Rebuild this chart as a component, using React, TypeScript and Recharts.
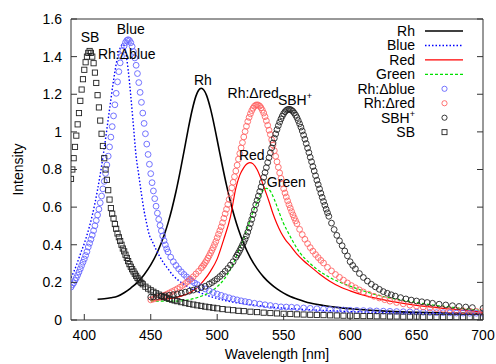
import React from 'react';
import { ComposedChart, Line, Scatter, XAxis, YAxis, ReferenceDot } from 'recharts';

const FONT = '"Liberation Sans", Arial, Helvetica, sans-serif';

// ---------- tick labels ----------
const xTicks = [400, 450, 500, 550, 600, 650, 700];
const yTicks = [0, 0.2, 0.4, 0.6, 0.8, 1, 1.2, 1.4, 1.6];

// ---------- line series [wavelength, intensity] ----------
const rhLine = [
  [410, 0.11], [415, 0.113], [420, 0.118], [425, 0.126], [430, 0.145], [435, 0.17], [440, 0.2], [445, 0.241],
  [450, 0.293], [455, 0.36], [460, 0.449], [463, 0.515], [466, 0.593], [469, 0.683], [472, 0.785], [475, 0.895],
  [478, 1.008], [481, 1.111], [484, 1.19], [486, 1.221], [488, 1.232], [490, 1.222], [492, 1.194], [495, 1.122],
  [498, 1.027], [501, 0.921], [504, 0.816], [507, 0.717], [510, 0.627], [513, 0.549], [516, 0.481], [520, 0.405],
  [525, 0.33], [530, 0.273], [535, 0.228], [540, 0.193], [545, 0.165], [550, 0.143], [555, 0.125], [560, 0.112],
  [570, 0.09], [580, 0.077], [590, 0.067], [600, 0.06], [615, 0.052], [630, 0.046], [650, 0.041], [675, 0.037], [700, 0.034],
];

const blueLine = [
  [390, 0.225], [392, 0.255], [394, 0.29], [396, 0.33], [398, 0.369], [400, 0.407], [402, 0.451], [404, 0.5],
  [406, 0.556], [408, 0.62], [410, 0.693], [412, 0.774], [414, 0.865], [416, 0.963], [418, 1.067], [420, 1.172],
  [422, 1.273], [424, 1.36], [426, 1.425], [428, 1.46], [429, 1.465], [430, 1.458], [431, 1.43], [433, 1.33],
  [435, 1.19], [437, 1.03], [439, 0.87], [441, 0.77], [443, 0.67], [445, 0.58], [447, 0.51], [449, 0.45],
  [451, 0.42], [454, 0.375], [457, 0.335], [460, 0.3], [463, 0.272], [467, 0.235], [471, 0.21], [475, 0.19],
  [479, 0.173], [484, 0.155], [489, 0.14], [494, 0.127], [499, 0.116], [504, 0.107], [509, 0.099], [519, 0.087],
  [529, 0.078], [539, 0.07], [550, 0.063], [569, 0.055], [589, 0.048], [609, 0.043], [629, 0.039], [659, 0.034], [700, 0.03],
];

const redLine = [
  [450, 0.105], [455, 0.107], [460, 0.11], [465, 0.115], [470, 0.122], [475, 0.132], [480, 0.148], [485, 0.172],
  [490, 0.21], [495, 0.26], [500, 0.325], [505, 0.43], [510, 0.55], [514, 0.7], [517, 0.77], [520, 0.81],
  [522, 0.828], [524.5, 0.837], [527, 0.83], [530, 0.8], [533, 0.75], [536, 0.69], [539, 0.63], [542, 0.565],
  [545, 0.51], [548, 0.465], [551, 0.43], [555, 0.395], [560, 0.35], [565, 0.315], [570, 0.285], [577, 0.245],
  [585, 0.205], [592, 0.178], [600, 0.155], [610, 0.132], [620, 0.115], [630, 0.1], [640, 0.088], [650, 0.078],
  [660, 0.07], [670, 0.062], [680, 0.055], [690, 0.048], [700, 0.042],
];

const greenLine = [
  [450, 0.1], [460, 0.1], [470, 0.1], [480, 0.11], [487, 0.124], [495, 0.15], [500, 0.177], [505, 0.215],
  [510, 0.27], [514, 0.33], [517, 0.385], [520, 0.435], [523, 0.495], [527, 0.575], [531, 0.64], [534, 0.685],
  [537, 0.7], [540, 0.685], [543, 0.64], [546, 0.585], [549.5, 0.52], [553, 0.47], [556, 0.43], [562, 0.36],
  [570, 0.3], [575, 0.27], [585, 0.225], [600, 0.18], [612, 0.15], [625, 0.125], [640, 0.105], [660, 0.082],
  [680, 0.065], [700, 0.05],
];

// ---------- point series ----------
const dBluePts = [
  [390, 0.175], [391, 0.187], [392, 0.197], [393, 0.21], [394, 0.224], [395, 0.239], [396, 0.255], [397, 0.272],
  [398, 0.29], [399, 0.307], [400, 0.324], [401, 0.343], [402, 0.363], [403, 0.388], [404, 0.408], [405, 0.429],
  [406, 0.451], [407, 0.475], [408, 0.501], [409, 0.529], [410, 0.558], [411, 0.589], [412, 0.623], [413, 0.659],
  [414, 0.697], [415, 0.737], [416, 0.779], [417, 0.824], [418, 0.871], [419, 0.92], [420, 0.972], [421, 1.028],
  [422, 1.085], [423, 1.144], [424, 1.205], [425, 1.266], [426, 1.32], [427, 1.367], [428, 1.402], [429, 1.433],
  [430, 1.457], [431, 1.475], [432, 1.486], [433, 1.49], [434, 1.486], [435, 1.474], [436, 1.454], [437, 1.427],
  [438, 1.393], [439, 1.354], [440, 1.31], [441, 1.262], [442, 1.21], [443, 1.157], [444, 1.1], [445, 1.045],
  [446, 0.99], [447, 0.935], [448, 0.88], [449, 0.828], [450, 0.778], [451, 0.73], [452, 0.686], [453, 0.645],
  [454, 0.605], [455, 0.568], [456, 0.535], [457, 0.503], [458, 0.474], [459, 0.447], [460, 0.422], [461, 0.399],
  [462, 0.378], [463, 0.362], [465, 0.334], [467, 0.31], [469, 0.29], [471, 0.272], [473, 0.256], [475, 0.242],
  [477, 0.229], [479, 0.217], [481, 0.206], [483, 0.197], [485, 0.188], [488, 0.176], [491, 0.165], [494, 0.155],
  [497, 0.146], [500, 0.138], [503, 0.131], [506, 0.124], [509, 0.118], [512, 0.112], [515, 0.107], [518, 0.102],
  [521, 0.098], [524, 0.094], [528, 0.089], [532, 0.085], [536, 0.081], [540, 0.077], [544, 0.073], [548, 0.07],
  [552, 0.069], [556, 0.068], [560, 0.066], [565, 0.064], [570, 0.062], [575, 0.06], [580, 0.058], [585, 0.056],
  [590, 0.055], [595, 0.053], [600, 0.052], [605, 0.051], [610, 0.05], [615, 0.049], [620, 0.048], [625, 0.047],
  [630, 0.046], [635, 0.045], [640, 0.044], [645, 0.043], [650, 0.042], [655, 0.041], [660, 0.04], [665, 0.039],
  [670, 0.039], [675, 0.038], [680, 0.037], [685, 0.037], [690, 0.036], [695, 0.036], [700, 0.035],
];

const dRedPts = [
  [450, 0.107], [452, 0.111], [454, 0.116], [456, 0.121], [458, 0.126], [460, 0.131], [462, 0.137], [464, 0.144],
  [466, 0.151], [468, 0.158], [470, 0.166], [472, 0.174], [474, 0.184], [476, 0.194], [478, 0.205], [480, 0.217],
  [482, 0.23], [484, 0.245], [486, 0.259], [488, 0.276], [489, 0.285], [490, 0.294], [491, 0.305], [492, 0.316],
  [493, 0.329], [494, 0.342], [495, 0.356], [496, 0.37], [497, 0.385], [498, 0.401], [499, 0.417], [500, 0.437],
  [501, 0.456], [502, 0.475], [503, 0.495], [504, 0.517], [505, 0.541], [506, 0.565], [507, 0.589], [508, 0.614],
  [509, 0.641], [510, 0.673], [511, 0.703], [512, 0.732], [513, 0.762], [514, 0.792], [515, 0.823], [516, 0.855],
  [517, 0.885], [518, 0.915], [519, 0.943], [520, 0.973], [521, 1.002], [522, 1.03], [523, 1.055], [524, 1.077],
  [525, 1.096], [526, 1.113], [527, 1.126], [528, 1.136], [529, 1.142], [530, 1.144], [531, 1.142], [532, 1.137],
  [533, 1.128], [534, 1.115], [535, 1.1], [536, 1.081], [537, 1.059], [538, 1.035], [539, 1.009], [540, 0.986],
  [541, 0.958], [542, 0.93], [543, 0.9], [544, 0.87], [545, 0.841], [546, 0.812], [547, 0.782], [548, 0.753],
  [549, 0.724], [550, 0.698], [551, 0.675], [552, 0.654], [553, 0.633], [554, 0.613], [555, 0.595], [556, 0.576],
  [557, 0.559], [558, 0.543], [559, 0.527], [560, 0.512], [562, 0.482], [564, 0.454], [566, 0.429], [568, 0.406],
  [570, 0.385], [572, 0.366], [574, 0.348], [576, 0.332], [578, 0.317], [580, 0.303], [583, 0.28], [586, 0.261],
  [589, 0.242], [592, 0.227], [595, 0.212], [598, 0.197], [601, 0.183], [604, 0.171], [607, 0.16], [610, 0.149],
  [614, 0.137], [618, 0.126], [622, 0.117], [626, 0.108], [630, 0.1], [635, 0.093], [640, 0.086], [645, 0.079],
  [650, 0.074], [655, 0.069], [660, 0.064], [665, 0.06], [670, 0.057], [675, 0.054], [680, 0.052], [685, 0.049],
  [690, 0.047], [695, 0.046], [700, 0.045],
];

const sbhPts = [
  [450, 0.122], [452, 0.123], [455, 0.125], [458, 0.127], [461, 0.129], [464, 0.132], [467, 0.135], [470, 0.139],
  [473, 0.143], [476, 0.148], [479, 0.153], [482, 0.159], [485, 0.165], [488, 0.172], [491, 0.179], [494, 0.191],
  [496, 0.199], [498, 0.209], [500, 0.219], [502, 0.231], [504, 0.244], [506, 0.259], [508, 0.274], [510, 0.292],
  [512, 0.31], [514, 0.333], [515, 0.345], [516, 0.357], [517, 0.37], [518, 0.384], [519, 0.398], [520, 0.413],
  [521, 0.429], [522, 0.447], [523, 0.467], [524, 0.489], [525, 0.512], [526, 0.535], [527, 0.56], [528, 0.585],
  [529, 0.613], [530, 0.636], [531, 0.659], [532, 0.683], [533, 0.707], [534, 0.733], [535, 0.758], [536, 0.784],
  [537, 0.81], [538, 0.837], [539, 0.863], [540, 0.889], [541, 0.915], [542, 0.941], [543, 0.966], [544, 0.989],
  [545, 1.012], [546, 1.033], [547, 1.052], [548, 1.069], [549, 1.084], [550, 1.097], [551, 1.107], [552, 1.114],
  [553, 1.119], [554, 1.12], [555, 1.119], [556, 1.115], [557, 1.109], [558, 1.1], [559, 1.089], [560, 1.076],
  [561, 1.06], [562, 1.043], [563, 1.025], [564, 1.005], [565, 0.983], [566, 0.961], [567, 0.938], [568, 0.914],
  [569, 0.89], [570, 0.865], [571, 0.841], [572, 0.816], [573, 0.792], [574, 0.767], [575, 0.743], [576, 0.72],
  [577, 0.697], [578, 0.674], [579, 0.652], [580, 0.63], [581, 0.61], [582, 0.589], [583, 0.57], [584, 0.551],
  [586, 0.515], [588, 0.481], [590, 0.45], [592, 0.421], [594, 0.395], [596, 0.367], [598, 0.341], [600, 0.31],
  [602, 0.29], [604, 0.272], [607, 0.247], [610, 0.226], [613, 0.207], [616, 0.19], [619, 0.176], [622, 0.163],
  [625, 0.151], [628, 0.142], [631, 0.134], [634, 0.127], [638, 0.119], [642, 0.112], [646, 0.106], [650, 0.101],
  [654, 0.097], [658, 0.093], [662, 0.089], [667, 0.084], [672, 0.08], [677, 0.076], [682, 0.072], [687, 0.069],
  [692, 0.066], [700, 0.062],
];

const sbPts = [
  [390, 0.75], [391, 0.8], [392, 0.86], [393, 0.92], [394, 0.98], [395, 1.04], [396, 1.1], [397, 1.165],
  [398, 1.225], [399, 1.28], [400, 1.33], [401, 1.37], [402, 1.4], [403, 1.42], [404, 1.43], [405, 1.42],
  [406, 1.4], [407, 1.365], [408, 1.315], [409, 1.26], [410, 1.195], [411, 1.13], [412, 1.06], [413, 0.99],
  [414, 0.925], [415, 0.86], [416, 0.8], [417, 0.745], [418, 0.69], [419, 0.64], [420, 0.595], [421, 0.565],
  [422, 0.54], [423, 0.51], [424, 0.485], [425, 0.46], [426, 0.44], [427, 0.42], [428, 0.4], [429, 0.38],
  [430, 0.365], [431, 0.347], [432, 0.33], [433, 0.313], [434, 0.297], [435, 0.283], [436, 0.27], [437, 0.258],
  [438, 0.246], [439, 0.235], [440, 0.224], [441, 0.214], [442, 0.205], [443, 0.197], [444, 0.19], [446, 0.177],
  [448, 0.167], [450, 0.158], [452, 0.15], [454, 0.142], [456, 0.135], [458, 0.128], [460, 0.122], [462, 0.117],
  [464, 0.112], [466, 0.108], [468, 0.104], [470, 0.1], [473, 0.095], [476, 0.09], [479, 0.086], [482, 0.082],
  [485, 0.078], [488, 0.075], [491, 0.071], [494, 0.068], [497, 0.065], [500, 0.062], [504, 0.058], [508, 0.055],
  [512, 0.052], [516, 0.049], [520, 0.047], [525, 0.044], [530, 0.042], [535, 0.039], [540, 0.037], [545, 0.035],
  [550, 0.033], [555, 0.032], [560, 0.03], [565, 0.029], [570, 0.028], [575, 0.027], [580, 0.026], [585, 0.025],
  [590, 0.024], [595, 0.023], [600, 0.023], [605, 0.022], [610, 0.021], [615, 0.021], [620, 0.02], [625, 0.02],
  [630, 0.019], [635, 0.019], [640, 0.018], [645, 0.018], [650, 0.018], [655, 0.017], [660, 0.017], [665, 0.016],
  [670, 0.016], [675, 0.016], [680, 0.015], [685, 0.015], [690, 0.015], [695, 0.015], [700, 0.014],
];

// ---------- in-plot annotations [text, wavelength, intensity, anchor] ----------
const annotations: [string, number, number, string][] = [
  ['SB', 404.3, 1.505, 'middle'],
  ['Blue', 435, 1.548, 'middle'],
  ['Rh:Δblue', 410.3, 1.415, 'start'],
  ['Rh', 489.2, 1.277, 'middle'],
  ['Rh:Δred', 527.1, 1.207, 'middle'],
  ['SBH+', 558.5, 1.17, 'middle'],
  ['Red', 526, 0.878, 'middle'],
  ['Green', 552, 0.734, 'middle'],
];

const toPts = (arr: number[][]) => arr.map(([x, y]) => ({ x, y }));

type Series = {
  name: string;
  data: number[][];
  kind: 'line' | 'circle' | 'square';
  color: string;
  width?: number;
  dash?: string;
};

const series: Series[] = [
  { name: 'Rh', data: rhLine, kind: 'line', color: '#000000', width: 1.6 },
  { name: 'Blue', data: blueLine, kind: 'line', color: '#0000ff', width: 1.4, dash: '1.5 2' },
  { name: 'Red', data: redLine, kind: 'line', color: '#ff0000', width: 1.2 },
  { name: 'Green', data: greenLine, kind: 'line', color: '#00e000', width: 1.2, dash: '3 2' },
  { name: 'Rh:Δblue', data: dBluePts, kind: 'circle', color: '#6464ff' },
  { name: 'Rh:Δred', data: dRedPts, kind: 'circle', color: '#ff6464' },
  { name: 'SBH+', data: sbhPts, kind: 'circle', color: '#222222' },
  { name: 'SB', data: sbPts, kind: 'square', color: '#222222' },
];

const FRAME = '#333333';

const renderName = (name: string, supSize = 9) => {
  if (name.endsWith('+')) {
    return (
      <>
        {name.slice(0, -1)}
        <tspan dy={-6} fontSize={supSize}>+</tspan>
      </>
    );
  }
  return name;
};

const LeftTick = (p: any) => (
  <g>
    <text x={p.x} y={p.y} dy="0.35em" textAnchor="end" fontSize={14} fontFamily={FONT} fill="#000">
      {String(p.payload.value)}
    </text>
    <line x1={p.x + 9} x2={p.x + 15} y1={p.y} y2={p.y} stroke={FRAME} />
  </g>
);
const RightTick = (p: any) => (
  <line x1={p.x} x2={p.x - 6} y1={p.y} y2={p.y} stroke={FRAME} />
);
const BottomTick = (p: any) => (
  <g>
    <text x={p.x} y={p.y} dy="0.71em" textAnchor="middle" fontSize={14} fontFamily={FONT} fill="#000">
      {String(p.payload.value)}
    </text>
    <line x1={p.x} x2={p.x} y1={p.y - 10} y2={p.y - 16} stroke={FRAME} />
  </g>
);
const TopTick = (p: any) => (
  <line x1={p.x} x2={p.x} y1={p.y} y2={p.y + 6} stroke={FRAME} />
);

const YTitle = (p: any) => {
  const vb = p.viewBox || {};
  const cx = (vb.x || 0) + 18;
  const cy = (vb.y || 0) + (vb.height || 0) / 2;
  return (
    <text x={cx} y={cy} transform={`rotate(-90 ${cx} ${cy})`} textAnchor="middle" dy="0.35em"
      fontSize={14} fontFamily={FONT} fill="#000">Intensity</text>
  );
};
const XTitle = (p: any) => {
  const vb = p.viewBox || {};
  const cx = (vb.x || 0) + (vb.width || 0) / 2;
  const by = (vb.y || 0) + 39;
  return (
    <text x={cx} y={by} textAnchor="middle" fontSize={14} fontFamily={FONT} fill="#000">Wavelength [nm]</text>
  );
};

const AnnoLabel = (p: any) => {
  const vb = p.viewBox || {};
  const x = (vb.x ?? 0) + (vb.width ?? 0) / 2;
  const y = (vb.y ?? 0) + (vb.height ?? 0) / 2;
  return (
    <text x={x} y={y} dy="0.35em" textAnchor={p.anchor} fontSize={14} fontFamily={FONT} fill="#000">
      {renderName(p.text)}
    </text>
  );
};

const circleShape = (color: string) => (p: any) =>
  p.cx == null ? <g /> : <circle cx={p.cx} cy={p.cy} r={2.9} fill="none" stroke={color} strokeWidth={0.9} />;
const squareShape = (color: string) => (p: any) =>
  p.cx == null ? <g /> : <rect x={p.cx - 2.6} y={p.cy - 2.6} width={5.2} height={5.2} fill="none" stroke={color} strokeWidth={0.9} />;

const Legend = () => {
  const top = 31;
  const step = 14.45;
  return (
    <svg width={496} height={364} style={{ position: 'absolute', left: 0, top: 0, pointerEvents: 'none' }}>
      {series.map((s, i) => {
        const y = top + i * step;
        return (
          <g key={s.name}>
            <text x={415} y={y} dy="0.35em" textAnchor="end" fontSize={14} fontFamily={FONT} fill="#000">
              {renderName(s.name)}
            </text>
            {s.kind === 'line' && (
              <line x1={425} x2={463} y1={y} y2={y} stroke={s.color} strokeWidth={s.width} strokeDasharray={s.dash} />
            )}
            {s.kind === 'circle' && (
              <circle cx={444.5} cy={y} r={2.6} fill="none" stroke={s.color} strokeWidth={0.9} />
            )}
            {s.kind === 'square' && (
              <rect x={442} y={y - 2.5} width={5} height={5} fill="none" stroke={s.color} strokeWidth={0.9} />
            )}
          </g>
        );
      })}
    </svg>
  );
};

export default function App() {
  return (
    <div style={{ position: 'absolute', left: 0, top: 0, width: 496, height: 364, background: '#fff' }}>
      <ComposedChart width={496} height={364} margin={{ top: 0, right: 0, bottom: 0, left: 0 }}>
        <XAxis
          xAxisId="b"
          dataKey="x"
          type="number"
          orientation="bottom"
          domain={[390, 700]}
          ticks={xTicks}
          allowDataOverflow
          height={44}
          tickLine={false}
          tickSize={0}
          tickMargin={10}
          axisLine={{ stroke: FRAME }}
          tick={<BottomTick />}
          label={<XTitle />}
        />
        <XAxis
          xAxisId="t"
          type="number"
          orientation="top"
          domain={[390, 700]}
          ticks={xTicks}
          allowDataOverflow
          height={19}
          tickLine={false}
          tickSize={0}
          tickMargin={0}
          axisLine={{ stroke: FRAME }}
          tick={<TopTick />}
        />
        <YAxis
          yAxisId="l"
          type="number"
          orientation="left"
          domain={[0, 1.6]}
          ticks={yTicks}
          allowDataOverflow
          width={71}
          tickLine={false}
          tickSize={0}
          tickMargin={9}
          axisLine={{ stroke: FRAME }}
          tick={<LeftTick />}
          label={<YTitle />}
        />
        <YAxis
          yAxisId="r"
          type="number"
          orientation="right"
          domain={[0, 1.6]}
          ticks={yTicks}
          allowDataOverflow
          width={13}
          tickLine={false}
          tickSize={0}
          tickMargin={0}
          axisLine={{ stroke: FRAME }}
          tick={<RightTick />}
        />
        {series.map((s) =>
          s.kind === 'line' ? (
            <Line
              key={s.name}
              xAxisId="b"
              yAxisId="l"
              data={toPts(s.data)}
              dataKey="y"
              type="monotone"
              stroke={s.color}
              strokeWidth={s.width}
              strokeDasharray={s.dash}
              dot={false}
              activeDot={false}
              isAnimationActive={false}
            />
          ) : (
            <Scatter
              key={s.name}
              xAxisId="b"
              yAxisId="l"
              data={toPts(s.data)}
              dataKey="y"
              shape={s.kind === 'circle' ? circleShape(s.color) : squareShape(s.color)}
              isAnimationActive={false}
            />
          )
        )}
        {annotations.map(([text, x, y, anchor]) => (
          <ReferenceDot
            key={text}
            xAxisId="b"
            yAxisId="l"
            x={x}
            y={y}
            r={0}
            fill="none"
            stroke="none"
            label={<AnnoLabel text={text} anchor={anchor} />}
          />
        ))}
      </ComposedChart>
      <Legend />
    </div>
  );
}
